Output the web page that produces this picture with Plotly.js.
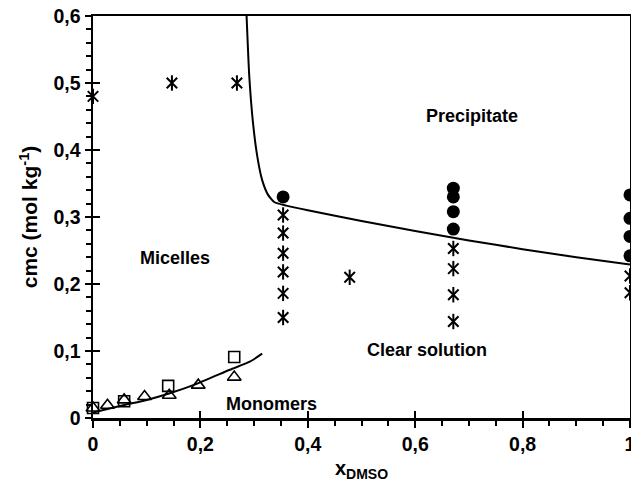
<!DOCTYPE html>
<html>
<head>
<meta charset="utf-8">
<script src="https://cdn.plot.ly/plotly-3.0.1.min.js"></script>
<style>html,body{margin:0;padding:0;background:#fff;}#chart{width:631px;height:482px;}</style>
</head>
<body>
<div id="chart"></div>
<script>
// Asterisk points (clear solution / micelles)
const starX = [0, 0.147, 0.268, 0.354, 0.354, 0.354, 0.354, 0.354, 0.354, 0.478, 0.671, 0.671, 0.671, 0.671, 1, 1];
const starY = [0.48, 0.5, 0.5, 0.303, 0.276, 0.246, 0.218, 0.186, 0.150, 0.210, 0.253, 0.223, 0.184, 0.144, 0.212, 0.187];
// Filled circles (precipitate)
const circX = [0.354, 0.671, 0.671, 0.671, 0.671, 1, 1, 1, 1];
const circY = [0.330, 0.343, 0.330, 0.308, 0.282, 0.333, 0.298, 0.271, 0.242];
// Open squares (cmc)
const sqX = [0, 0.058, 0.140, 0.263];
const sqY = [0.015, 0.025, 0.048, 0.091];
// Open triangles (cmc)
const triX = [0, 0.027, 0.058, 0.096, 0.142, 0.196, 0.263];
const triY = [0.015, 0.019, 0.027, 0.032, 0.034, 0.049, 0.061];
// Solubility boundary curve
const bndX = [0.286, 0.291, 0.298, 0.306, 0.315, 0.326, 0.338, 0.36, 0.40, 0.50, 0.60, 0.70, 0.80, 0.90, 1.0];
const bndY = [0.60, 0.51, 0.44, 0.39, 0.355, 0.333, 0.322, 0.317, 0.310, 0.294, 0.279, 0.265, 0.252, 0.240, 0.229];
// cmc curve
const cmcX = [0, 0.056, 0.10, 0.143, 0.193, 0.255, 0.292, 0.315];
const cmcY = [0.008, 0.019, 0.027, 0.037, 0.051, 0.072, 0.084, 0.096];
// Region labels
const lblText = ["Precipitate", "Micelles", "Clear solution", "Monomers"];
const lblX = [0.706, 0.153, 0.622, 0.333];
const lblY = [0.451, 0.239, 0.101, 0.021];

const FONT = "'Liberation Sans', Arial, sans-serif";

const traces = [
  {x: bndX, y: bndY, mode: 'lines', line: {color: '#000', width: 2, shape: 'spline', smoothing: 0.5}, cliponaxis: false, hoverinfo: 'skip'},
  {x: cmcX, y: cmcY, mode: 'lines', line: {color: '#000', width: 2, shape: 'spline', smoothing: 0.6}, cliponaxis: false, hoverinfo: 'skip'},
  {x: starX, y: starY, mode: 'markers', marker: {symbol: 'x-thin-open', size: 10.5, color: '#000', line: {color: '#000', width: 2}}, cliponaxis: false},
  {x: starX, y: starY, mode: 'markers', marker: {symbol: 'line-ns-open', size: 11, color: '#000', line: {color: '#000', width: 2}}, cliponaxis: false},
  {x: circX, y: circY, mode: 'markers', marker: {symbol: 'circle', size: 13, color: '#000', line: {width: 0}}, cliponaxis: false},
  {x: sqX, y: sqY, mode: 'markers', marker: {symbol: 'square-open', size: 11, color: '#000', line: {color: '#000', width: 1.6}}, cliponaxis: false},
  {x: triX, y: triY, mode: 'markers', marker: {symbol: 'triangle-up-open', size: 12, color: '#000', line: {color: '#000', width: 1.6}}, cliponaxis: false},
  {x: [], y: [], xaxis: 'x2', yaxis: 'y2', mode: 'markers', hoverinfo: 'skip'}
];

const annotations = lblText.map((t, i) => ({
  x: lblX[i], y: lblY[i], xref: 'x', yref: 'y', text: t, showarrow: false,
  font: {family: FONT, size: 18, color: '#000', weight: 'bold'}
}));

const tickFont = {family: FONT, size: 19.5, color: '#000', weight: 'bold'};

const layout = {
  width: 631, height: 482,
  margin: {l: 93, r: 1, t: 16, b: 64},
  paper_bgcolor: '#fff', plot_bgcolor: '#fff',
  showlegend: false,
  separators: ',.',
  font: {family: FONT, color: '#000'},
  xaxis: {
    range: [0, 1], dtick: 0.2, tick0: 0, showgrid: false, zeroline: false,
    showline: true, linecolor: '#000', linewidth: 2.5, mirror: true,
    ticks: 'outside', ticklen: 7, tickwidth: 2, tickcolor: '#000',
    minor: {dtick: 0.05, ticks: 'outside', ticklen: 5, tickwidth: 2, tickcolor: '#000'},
    tickfont: tickFont, ticklabeloverflow: 'allow',
    title: {text: 'x<sub>DMSO</sub>', font: {family: FONT, size: 20, color: '#000', weight: 'bold'}, standoff: 8}
  },
  yaxis: {
    range: [0, 0.6], dtick: 0.1, tick0: 0, showgrid: false, zeroline: false,
    showline: true, linecolor: '#000', linewidth: 2.5, mirror: true,
    ticks: 'outside', ticklen: 6, tickwidth: 2, tickcolor: '#000',
    minor: {dtick: 0.02, ticks: 'outside', ticklen: 5, tickwidth: 2, tickcolor: '#000'},
    tickfont: tickFont, ticklabeloverflow: 'allow',
    title: {text: 'cmc (mol kg<sup>-1</sup>)', font: {family: FONT, size: 21, color: '#000', weight: 'bold'}, standoff: 10}
  },
  xaxis2: {overlaying: 'x', range: [0, 1], dtick: 0.2, tick0: 0, side: 'bottom', anchor: 'y2',
    showgrid: false, zeroline: false, showline: false, showticklabels: false,
    ticks: 'inside', ticklen: 7, tickwidth: 2, tickcolor: '#000'},
  yaxis2: {overlaying: 'y', range: [0, 0.6], dtick: 0.1, tick0: 0, side: 'left', anchor: 'x2',
    showgrid: false, zeroline: false, showline: false, showticklabels: false,
    ticks: 'inside', ticklen: 7, tickwidth: 2, tickcolor: '#000'},
  annotations: annotations
};

Plotly.newPlot('chart', traces, layout, {displayModeBar: false, staticPlot: true});
</script>
</body>
</html>
